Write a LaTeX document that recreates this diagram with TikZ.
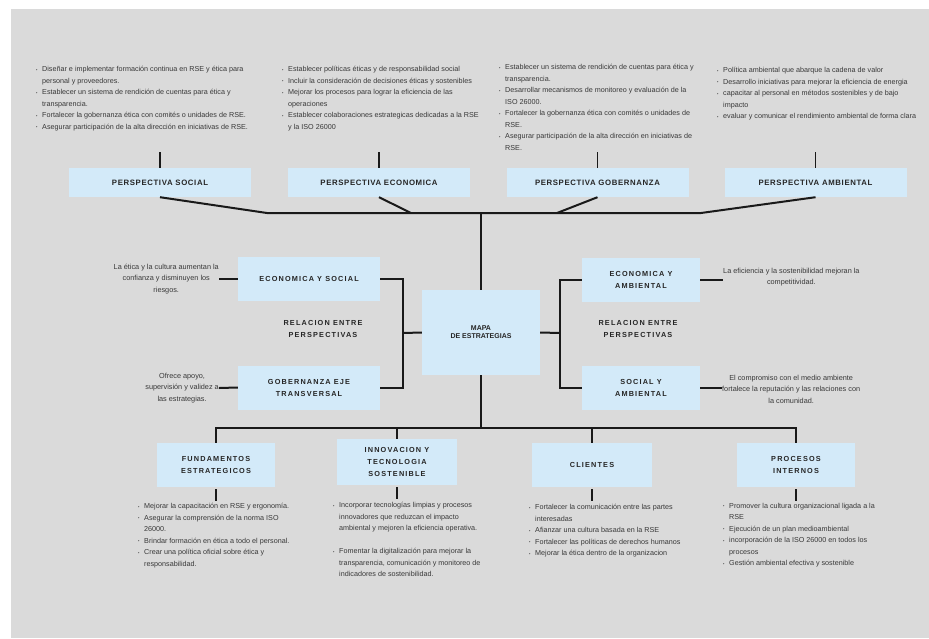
\documentclass[tikz,border=0pt]{standalone}
\usepackage{fontspec}
\setmainfont{Liberation Sans}
\newfontfamily\hdrfont[LetterSpace=8]{Liberation Sans}
\newfontfamily\hdrwide[LetterSpace=16]{Liberation Sans}
\definecolor{bggray}{HTML}{DADADA}
\definecolor{boxblue}{HTML}{D3EAF9}
\definecolor{txtgray}{HTML}{383838}
\newcommand{\bul}{\makebox[6pt][l]{\raisebox{.5pt}{\scalebox{.55}{\textbullet}}}}
\newcommand{\ind}{\hspace*{6pt}}
\begin{document}
\begin{tikzpicture}[x=1pt,y=-1pt,
  box/.style={fill=boxblue,inner sep=0pt,align=center,text=black!85},
  lst/.style={inner sep=0pt,anchor=north west,align=left,text=txtgray,font=\fontsize{7.2}{11.5}\selectfont},
  note/.style={inner sep=0pt,align=center,text=txtgray,font=\fontsize{7.3}{11.5}\selectfont},
  toph/.style={font=\hdrfont\bfseries\fontsize{7.8}{9}\selectfont},
  midh/.style={font=\hdrwide\bfseries\fontsize{7.3}{12}\selectfont},
  topbox/.style={box,toph,minimum width=182,minimum height=29},
  midbox/.style={box,midh,minimum height=44},
  conn/.style={line width=2pt,black!90}]
\useasboundingbox (0,0) rectangle (929,638);
\fill[white] (0,0) rectangle (929,638);
\fill[bggray] (11,9) rectangle (929,638);
%
\node[lst] (lSoc) at (36,66) {\bul Diseñar e implementar formación continua en RSE y ética para\\
  \ind personal y proveedores.\\
  \bul Establecer un sistema de rendición de cuentas para ética y\\
  \ind transparencia.\\
  \bul Fortalecer la gobernanza ética con comités o unidades de RSE.\\
  \bul Asegurar participación de la alta dirección en iniciativas de RSE.};
\node[lst] (lEco) at (282,66) {\bul Establecer políticas éticas y de responsabilidad social\\
  \bul Incluir la consideración de decisiones éticas y sostenibles\\
  \bul Mejorar los procesos para lograr la eficiencia de las\\
  \ind operaciones\\
  \bul Establecer colaboraciones estrategicas dedicadas a la RSE\\
  \ind y la ISO 26000};
\node[lst] (lGob) at (499,64) {\bul Establecer un sistema de rendición de cuentas para ética y\\
  \ind transparencia.\\
  \bul Desarrollar mecanismos de monitoreo y evaluación de la\\
  \ind ISO 26000.\\
  \bul Fortalecer la gobernanza ética con comités o unidades de\\
  \ind RSE.\\
  \bul Asegurar participación de la alta dirección en iniciativas de\\
  \ind RSE.};
\node[lst] (lAmb) at (717,67) {\bul Política ambiental que abarque la cadena de valor\\
  \bul Desarrollo iniciativas para mejorar la eficiencia de energia\\
  \bul capacitar al personal en métodos sostenibles y de bajo\\
  \ind impacto\\
  \bul evaluar y comunicar el rendimiento ambiental de forma clara};
%
\node[topbox] (pSoc) at (160,182.5) {PERSPECTIVA SOCIAL};
\node[topbox] (pEco) at (379,182.5) {PERSPECTIVA ECONOMICA};
\node[topbox] (pGob) at (597.5,182.5) {PERSPECTIVA GOBERNANZA};
\node[topbox] (pAmb) at (815.5,182.5) {PERSPECTIVA AMBIENTAL};
\foreach \b in {pSoc,pEco,pGob,pAmb}
  \draw[conn,line width=1.5pt] (\b.north) -- ++(0,-16);
%
\node[box,minimum width=118,minimum height=85,font=\bfseries\fontsize{7}{8}\selectfont] (mapa) at (481,332.5) {MAPA\\DE ESTRATEGIAS};
\coordinate (tL) at (267,213);
\coordinate (tE) at (411,213);
\coordinate (tG) at (557,213);
\coordinate (tR) at (701,213);
\draw[conn] (pSoc.south) -- (tL) -- (tR) -- (pAmb.south);
\draw[conn] (pEco.south) -- (tE);
\draw[conn] (pGob.south) -- (tG);
\draw[conn] (mapa.north) -- (mapa.north |- tL);
%
\node[midbox,minimum width=142] (rES) at (309,279) {ECONOMICA Y SOCIAL};
\node[midbox,minimum width=142] (rGE) at (309,387.5) {GOBERNANZA EJE\\TRANSVERSAL};
\node[midbox,minimum width=118] (rEA) at (641,280) {ECONOMICA Y\\AMBIENTAL};
\node[midbox,minimum width=118] (rSA) at (641,388) {SOCIAL Y\\AMBIENTAL};
\node[midh,align=center,text=black!85] (relL) at (323,328.5) {RELACION ENTRE\\PERSPECTIVAS};
\node[midh,align=center,text=black!85] (relR) at (638,328.5) {RELACION ENTRE\\PERSPECTIVAS};
\coordinate (jL) at (403,333);
\coordinate (jR) at (560,333);
\draw[conn] (rES.east) -| (jL) |- (rGE.east);
\draw[conn] (jL) -- (mapa.west);
\draw[conn] (rEA.west) -| (jR) |- (rSA.west);
\draw[conn] (jR) -- (mapa.east);
%
\node[note,anchor=east] (nES) at (219,279) {La ética y la cultura aumentan la\\confianza y disminuyen los\\riesgos.};
\node[note,anchor=east] (nGE) at (219,388) {Ofrece apoyo,\\supervisión y validez a\\las estrategias.};
\node[note,anchor=west] (nEA) at (723,277) {La eficiencia y la sostenibilidad mejoran la\\competitividad.};
\node[note,anchor=west] (nSA) at (722,389) {El compromiso con el medio ambiente\\fortalece la reputación y las relaciones con\\la comunidad.};
\draw[conn] (rES.west) -- (nES.east);
\draw[conn] (rGE.west) -- (nGE.east);
\draw[conn] (rEA.east) -- (nEA.west |- rEA.east);
\draw[conn] (rSA.east) -- (nSA.west |- rSA.east);
%
\node[midbox,minimum width=118] (bFun) at (216,465) {FUNDAMENTOS\\ESTRATEGICOS};
\node[midbox,minimum width=120,minimum height=46] (bInn) at (397,462) {INNOVACION Y\\TECNOLOGIA\\SOSTENIBLE};
\node[midbox,minimum width=120] (bCli) at (592,465) {CLIENTES};
\node[midbox,minimum width=118] (bPro) at (796,465) {PROCESOS\\INTERNOS};
\coordinate (bL) at (216,428);
\coordinate (bR) at (796,428);
\draw[conn] (bFun.north) -- (bL) -- (bR) -- (bPro.north);
\draw[conn] (mapa.south) -- (mapa.south |- bL);
\draw[conn] (bInn.north) -- (bInn.north |- bL);
\draw[conn] (bCli.north) -- (bCli.north |- bL);
\foreach \b in {bFun,bInn,bCli,bPro}
  \draw[conn] ([yshift=-2pt]\b.south) -- ++(0,12);
%
\node[lst] (lFun) at (138,503) {\bul Mejorar la capacitación en RSE y ergonomía.\\
  \bul Asegurar la comprensión de la norma ISO\\
  \ind 26000.\\
  \bul Brindar formación en ética a todo el personal.\\
  \bul Crear una política oficial sobre ética y\\
  \ind responsabilidad.};
\node[lst] (lInn) at (333,502) {\bul Incorporar tecnologías limpias y procesos\\
  \ind innovadores que reduzcan el impacto\\
  \ind ambiental y mejoren la eficiencia operativa.\\[11.5pt]
  \bul Fomentar la digitalización para mejorar la\\
  \ind transparencia, comunicación y monitoreo de\\
  \ind indicadores de sostenibilidad.};
\node[lst] (lCli) at (529,504) {\bul Fortalecer la comunicación entre las partes\\
  \ind interesadas\\
  \bul Afianzar una cultura basada en la RSE\\
  \bul Fortalecer las políticas de derechos humanos\\
  \bul Mejorar la ética dentro de la organizacion};
\node[lst] (lPro) at (723,503) {\bul Promover la cultura organizacional ligada a la\\
  \ind RSE\\
  \bul Ejecución de un plan medioambiental\\
  \bul incorporación de la ISO 26000 en todos los\\
  \ind procesos\\
  \bul Gestión ambiental efectiva y sostenible};
\end{tikzpicture}
\end{document}
